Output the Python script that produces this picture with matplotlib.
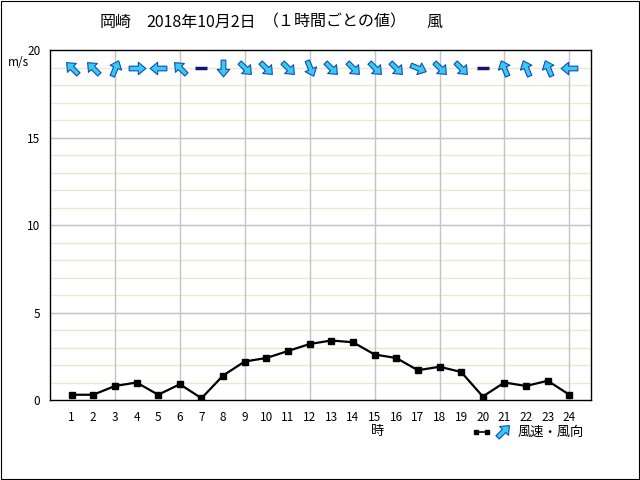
import matplotlib
matplotlib.use('Agg')

import matplotlib.pyplot as plt
from matplotlib.markers import MarkerStyle
from matplotlib.path import Path
from matplotlib.transforms import Affine2D
from matplotlib.patches import Rectangle

plt.rcParams['font.family'] = ['Noto Sans CJK JP', 'DejaVu Sans']

# 岡崎 2018-10-02 hourly wind
hours = list(range(1, 25))
speed = [0.3, 0.3, 0.8, 1.0, 0.3, 0.9, 0.1, 1.4, 2.2, 2.4, 2.8, 3.2,
         3.4, 3.3, 2.6, 2.4, 1.7, 1.9, 1.6, 0.2, 1.0, 0.8, 1.1, 0.3]
# direction the wind comes from (静穏 = calm)
direction = ['南東', '南東', '南南西', '西', '東', '南東', '静穏', '北',
             '北西', '北西', '北西', '北北西', '北西', '北西', '北西', '北西',
             '西北西', '北西', '北西', '静穏', '南南東', '南南東', '南南東', '東']
compass = ['北', '北北東', '北東', '東北東', '東', '東南東', '南東', '南南東',
           '南', '南南西', '南西', '西南西', '西', '西北西', '北西', '北北西']
y_ticks = [0, 5, 10, 15, 20]

ARROW_FILL = '#3cc8f5'
ARROW_EDGE = '#0a4fb0'
CALM = '#14146e'

arrow_path = Path(
    [(-1, -0.28), (0.1, -0.28), (0.1, -0.75), (1, 0), (0.1, 0.75),
     (0.1, 0.28), (-1, 0.28), (-1, -0.28)],
    [Path.MOVETO] + [Path.LINETO] * 6 + [Path.CLOSEPOLY])


def arrow_marker(angle):
    return MarkerStyle(arrow_path, transform=Affine2D().rotate_deg(angle))


fig = plt.figure(figsize=(6.4, 4.8), dpi=100)
ax = fig.add_axes([50 / 640, 80 / 480, 541 / 640, 350 / 480])

# grid: beige every 1 m/s, grey every 5 m/s and every 3 hours
for v in range(1, 20):
    ax.axhline(v, color='#eee6d0', lw=1, zorder=0)
for v in y_ticks[1:-1]:
    ax.axhline(v, color='#c4c4c4', lw=1, zorder=0.5)
for h in range(3, 25, 3):
    ax.axvline(h, color='#c4c4c4', lw=1, zorder=0.5)

ax.plot(hours, speed, color='black', lw=1.6, marker='s', markersize=5,
        zorder=3)

for h, d in zip(hours, direction):
    if d == '静穏':
        ax.plot(h, 19, marker='_', markersize=9, mew=2.5, color=CALM,
                zorder=4)
    else:
        b = compass.index(d) * 22.5
        ax.plot(h, 19, marker=arrow_marker(-90 - b), markersize=12,
                mfc=ARROW_FILL, mec=ARROW_EDGE, mew=0.8, zorder=4)

ax.set_xlim(0, 25)
ax.set_ylim(0, 20)
ax.set_xticks(hours)
ax.set_xticklabels([str(h) for h in hours], fontsize=8.5)
ax.set_yticks(y_ticks)
ax.set_yticklabels([str(v) for v in y_ticks], fontsize=8.5)
ax.tick_params(length=0)
ax.tick_params(axis='x', pad=8)
ax.tick_params(axis='y', pad=7)
for s in ax.spines.values():
    s.set_linewidth(1)

# titles and labels (figure pixel positions)
def fx(px):
    return px / 640


def fy(py):
    return 1 - py / 480


tkw = dict(fontsize=11.5, va='center', ha='left')
fig.text(fx(100), fy(22), '岡崎', **tkw)
fig.text(fx(146), fy(22), '2018年10月2日', **tkw)
fig.text(fx(263), fy(22), '（１時間ごとの値）', **tkw)
fig.text(fx(426), fy(22), '風', **tkw)
fig.text(fx(8), fy(62), 'm/s', fontsize=8.5, va='center', ha='left')
fig.text(fx(378), fy(432), '時', fontsize=9.5, va='center', ha='center')
fig.text(fx(518), fy(432), '風速・風向', fontsize=9.5, va='center', ha='left')

# legend symbols
fig.lines.append(plt.Line2D([fx(476), fx(487)], [fy(432), fy(432)],
                            transform=fig.transFigure, color='black', lw=1.2,
                            marker='s', markersize=2.5))
fig.lines.append(plt.Line2D([fx(503)], [fy(431)], transform=fig.transFigure,
                            marker=arrow_marker(45), markersize=12,
                            mfc=ARROW_FILL, mec=ARROW_EDGE, mew=0.8))

fig.patches.append(Rectangle((0.5 / 640, 1.5 / 480), 638 / 640, 478 / 480,
                             transform=fig.transFigure, fill=False,
                             edgecolor='black', lw=0.8))

fig.savefig('out.png', dpi=100)
